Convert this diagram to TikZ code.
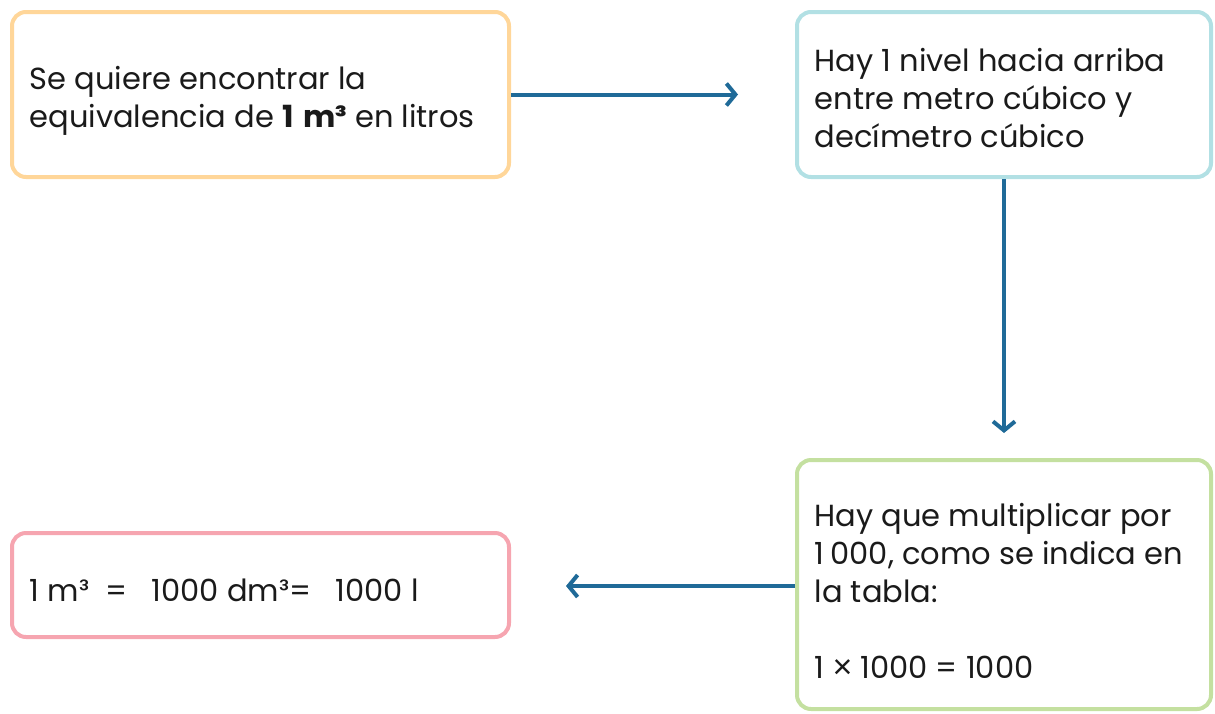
\documentclass[tikz,border=0pt]{standalone}
\usepackage{fontspec}
\setmainfont{Poppins}
\newfontfamily\symfont{Liberation Sans}
\usetikzlibrary{arrows.meta}
\definecolor{borange}{HTML}{FFD699}
\definecolor{bteal}{HTML}{B2E0E4}
\definecolor{bgreen}{HTML}{C4E0A0}
\definecolor{bpink}{HTML}{F6A5B0}
\definecolor{arrowblue}{HTML}{1F6A98}
\definecolor{txt}{HTML}{1A1A1A}
\newcommand{\tms}{{\symfont\fontsize{34}{38}\selectfont ×}}
\tikzset{
  box/.style={draw=#1, line width=4pt, rounded corners=14pt, fill=white,
    inner sep=0pt},
  boxtext/.style={inner sep=0pt, align=left, text=txt, anchor=west,
    font=\fontsize{30.5}{38}\selectfont},
  arr/.style={draw=arrowblue, line width=4pt,
    -{Straight Barb[length=9pt,width=22pt]}},
}
\begin{document}
\begin{tikzpicture}[x=1pt,y=-1pt]
\useasboundingbox (0,0) rectangle (1215,713);
\node[box=borange, minimum width=497pt, minimum height=165pt] (a) at (260.5,94.5) {};
\node[boxtext] (at) at (29.5,100.5)
  {Se quiere encontrar la\\equivalencia de \textbf{1\hspace{0.1em} m³} en litros};
\node[box=bteal, minimum width=414pt, minimum height=165pt] (b) at (1004,94.5) {};
\node[boxtext] (bt) at (814.5,98.5)
  {Hay 1 nivel hacia arriba\\entre metro cúbico y\\decímetro cúbico};
\node[box=bgreen, minimum width=414pt, minimum height=249pt] (c) at (1004,584.5) {};
\node[boxtext] (ct) at (814.5,590.5)
  {Hay que multiplicar por\\1\hspace{0.2em}000, como se indica en\\la tabla:\\[38pt]1 \tms{} 1000 = 1000};
\node[box=bpink, minimum width=497pt, minimum height=104pt] (d) at (260.5,585) {};
\node[boxtext] (dt) at (29.5,590)
  {1 m³ \ = \ \ 1000 dm³= \ \ 1000 l};
\coordinate (t1) at (738,94.5);
\coordinate (t2) at (1004,433);
\coordinate (t3) at (566,586);
\draw[arr] (a.east) -- (t1);
\draw[arr] (b.south) -- (t2);
\draw[arr] (c.west |- t3) -- (t3);
\end{tikzpicture}
\end{document}
